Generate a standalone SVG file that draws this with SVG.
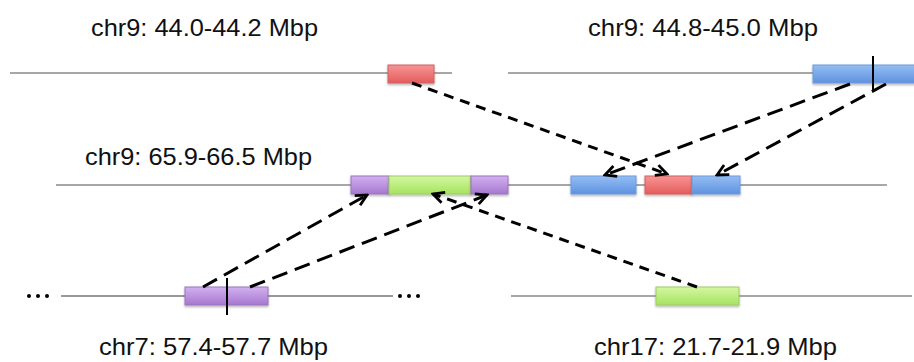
<svg xmlns="http://www.w3.org/2000/svg" width="914" height="362" viewBox="0 0 914 362">
  <style>
    .lbl { font-family: "Liberation Sans", Arial, sans-serif; font-size: 24px; fill: #111; }
    .chrom { stroke: #8a8a8a; stroke-width: 1.6; fill: none; }
    .chromd { stroke: #333; stroke-width: 1.2; fill: none; }
    .tick { stroke: #000; stroke-width: 2; }
    .box { stroke-width: 1; }
    .red { fill: url(#gRed); stroke: #d06060; }
    .blue { fill: url(#gBlue); stroke: #6f9ad8; }
    .purple { fill: url(#gPurple); stroke: #9a74c0; }
    .green { fill: url(#gGreen); stroke: #9ccc66; }
    .link { stroke: #000; stroke-width: 3; fill: none; marker-end: url(#vhead); }
    .long { stroke-dasharray: 16 8; }
    .short { stroke-dasharray: 10 7; }
    .dots { fill: #000; }
  </style>
  <defs>
    <linearGradient id="gRed" x1="0" y1="0" x2="0" y2="1">
      <stop offset="0" stop-color="#f79494"/>
      <stop offset="1" stop-color="#e55c5c"/>
    </linearGradient>
    <linearGradient id="gBlue" x1="0" y1="0" x2="0" y2="1">
      <stop offset="0" stop-color="#94bdf3"/>
      <stop offset="1" stop-color="#5e92e0"/>
    </linearGradient>
    <linearGradient id="gPurple" x1="0" y1="0" x2="0" y2="1">
      <stop offset="0" stop-color="#d3b1f0"/>
      <stop offset="1" stop-color="#a677cf"/>
    </linearGradient>
    <linearGradient id="gGreen" x1="0" y1="0" x2="0" y2="1">
      <stop offset="0" stop-color="#d4f7a0"/>
      <stop offset="1" stop-color="#a6e35f"/>
    </linearGradient>
    <filter id="shadow" x="-10%" y="-20%" width="120%" height="160%">
      <feDropShadow dx="0" dy="1.5" stdDeviation="1" flood-color="#000" flood-opacity="0.3"/>
    </filter>
    <marker id="vhead" viewBox="0 0 14 14" refX="12" refY="7" markerWidth="14" markerHeight="14" markerUnits="userSpaceOnUse" orient="auto">
      <path d="M1,1.5 L12,7 L1,12.5" fill="none" stroke="#000" stroke-width="2.8"/>
    </marker>
  </defs>

  <!-- chr9: 44.0-44.2 Mbp -->
  <g id="chr9-44.0">
    <line class="chrom" x1="10" y1="73" x2="452" y2="73"/>
    <rect class="box red" x="388" y="65" width="46" height="18" filter="url(#shadow)"/>
    <text class="lbl" x="91" y="36" textLength="227" lengthAdjust="spacingAndGlyphs">chr9: 44.0-44.2 Mbp</text>
  </g>

  <!-- chr9: 44.8-45.0 Mbp -->
  <g id="chr9-44.8">
    <line class="chrom" x1="508" y1="73" x2="914" y2="73"/>
    <rect class="box blue" x="813" y="65" width="104" height="18" filter="url(#shadow)"/>
    <line class="tick" x1="873" y1="56" x2="873" y2="92"/>
    <text class="lbl" x="588" y="36" textLength="230" lengthAdjust="spacingAndGlyphs">chr9: 44.8-45.0 Mbp</text>
  </g>

  <!-- chr9: 65.9-66.5 Mbp -->
  <g id="chr9-65.9">
    <line class="chrom" x1="56" y1="185" x2="887" y2="185"/>
    <rect class="box purple" x="351" y="176" width="38" height="18" filter="url(#shadow)"/>
    <rect class="box green" x="389" y="176" width="82" height="18" filter="url(#shadow)"/>
    <rect class="box purple" x="471" y="176" width="37" height="18" filter="url(#shadow)"/>
    <rect class="box blue" x="571" y="176" width="65" height="18" filter="url(#shadow)"/>
    <rect class="box red" x="645" y="176" width="47" height="18" filter="url(#shadow)"/>
    <rect class="box blue" x="692" y="176" width="48" height="18" filter="url(#shadow)"/>
    <text class="lbl" x="85" y="165" textLength="227" lengthAdjust="spacingAndGlyphs">chr9: 65.9-66.5 Mbp</text>
  </g>

  <!-- chr7: 57.4-57.7 Mbp -->
  <g id="chr7">
    <circle class="dots" cx="29" cy="296" r="2"/>
    <circle class="dots" cx="38" cy="296" r="2"/>
    <circle class="dots" cx="47" cy="296" r="2"/>
    <line class="chromd" x1="61" y1="296" x2="393" y2="296"/>
    <circle class="dots" cx="400" cy="296" r="2"/>
    <circle class="dots" cx="409" cy="296" r="2"/>
    <circle class="dots" cx="418" cy="296" r="2"/>
    <rect class="box purple" x="185" y="287" width="83" height="18" filter="url(#shadow)"/>
    <line class="tick" x1="227" y1="278" x2="227" y2="315"/>
    <text class="lbl" x="99" y="355" textLength="229" lengthAdjust="spacingAndGlyphs">chr7: 57.4-57.7 Mbp</text>
  </g>

  <!-- chr17: 21.7-21.9 Mbp -->
  <g id="chr17">
    <line class="chrom" x1="511" y1="296" x2="912" y2="296"/>
    <rect class="box green" x="656" y="287" width="83" height="18" filter="url(#shadow)"/>
    <text class="lbl" x="594" y="355" textLength="243" lengthAdjust="spacingAndGlyphs">chr17: 21.7-21.9 Mbp</text>
  </g>

  <!-- dashed connectors -->
  <g id="connectors">
    <line class="link short" x1="412" y1="83" x2="667" y2="174"/>
    <line class="link long" x1="850" y1="84" x2="605" y2="175"/>
    <line class="link long" x1="886" y1="84" x2="717" y2="175"/>
    <line class="link long" x1="203" y1="287" x2="367" y2="195"/>
    <line class="link long" x1="250" y1="287" x2="487" y2="195"/>
    <line class="link short" x1="697" y1="287" x2="433" y2="194"/>
  </g>
</svg>
